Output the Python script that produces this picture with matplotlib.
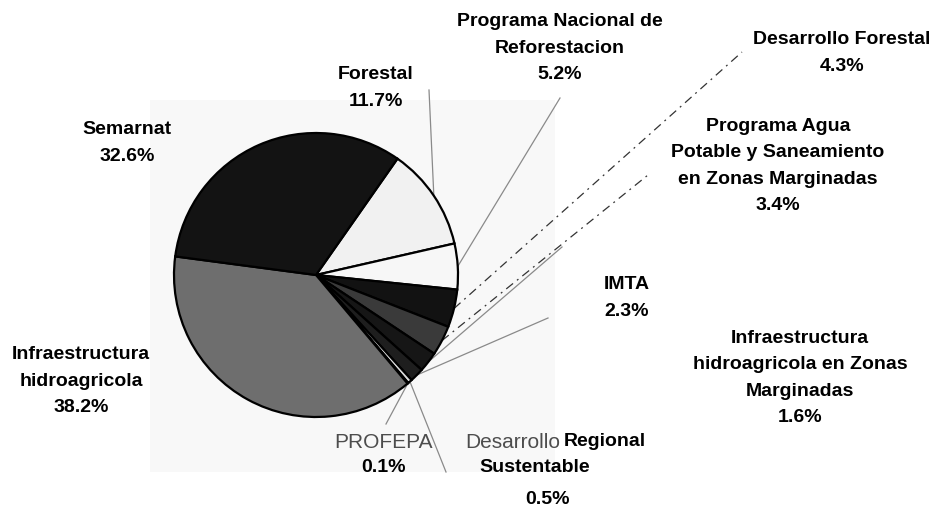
import matplotlib
matplotlib.use("Agg")
import matplotlib.pyplot as plt
import numpy as np
from matplotlib.patches import Rectangle

plt.rcParams.update({
    "font.family": ["Liberation Sans", "DejaVu Sans"],
    "font.size": 14,
})

W, H = 932, 509

# slices, clockwise from the top-right boundary of Semarnat
NAMES = [
    "Forestal",
    "Programa Nacional de\nReforestacion",
    "Desarrollo Forestal",
    "Programa Agua\nPotable y Saneamiento\nen Zonas Marginadas",
    "IMTA",
    "Infraestructura\nhidroagricola en Zonas\nMarginadas",
    "Desarrollo Regional\nSustentable",
    "PROFEPA",
    "Infraestructura\nhidroagricola",
    "Semarnat",
]
SHARES = [11.7, 5.2, 4.3, 3.4, 2.3, 1.6, 0.5, 0.1, 38.2, 32.6]
FILLS = ["#f1f1f1", "#f7f7f7", "#121212", "#3a3a3a", "#161616",
         "#1e1e1e", "#dcdcdc", "#111111", "#6e6e6e", "#131313"]

# label block centres (pixels from top-left) and leader line outer ends
LABEL_POS = [(376, 88), (560, 48), (842, 53), (778, 166), (627, 298),
             (800, 378), (545, 470), (383, 455), (81, 381), (127, 143)]
LEADER_END = [(429, 90), (560, 98), (742, 52), (648, 175), (562, 247),
              (548, 318), (446, 472), (386, 424), None, None]
LEADER_STYLE = ["solid", "solid", "dashdot", "dashdot", "solid",
                "solid", "solid", "solid", None, None]

CENTER = (316, 275)
RADIUS = 142
LSP = 1.72


def py(y):
    return H - y


fig = plt.figure(figsize=(W / 100, H / 100), dpi=100)
ax = fig.add_axes([0, 0, 1, 1])

# faint scanned backdrop behind the pie
ax.add_patch(Rectangle((150, py(472)), 405, 372, facecolor="#f8f8f8",
                       edgecolor="none", zorder=0))

wedges, _ = ax.pie(
    SHARES,
    colors=FILLS,
    startangle=55,
    counterclock=False,
    radius=RADIUS,
    center=(CENTER[0], py(CENTER[1])),
    wedgeprops={"edgecolor": "black", "linewidth": 1.6},
)
for w in wedges:
    w.set_zorder(2)

for w, end, style in zip(wedges, LEADER_END, LEADER_STYLE):
    if end is None:
        continue
    ang = np.deg2rad((w.theta1 + w.theta2) / 2.0)
    sx = CENTER[0] + RADIUS * np.cos(ang)
    sy = py(CENTER[1]) + RADIUS * np.sin(ang)
    if style == "dashdot":
        ax.plot([sx, end[0]], [sy, py(end[1])], color="#333333",
                linewidth=0.9, linestyle=(0, (7, 4, 1.5, 4)), zorder=1)
    else:
        ax.plot([sx, end[0]], [sy, py(end[1])], color="#8a8a8a",
                linewidth=0.9, zorder=1)

for name, share, (lx, ly) in zip(NAMES, SHARES, LABEL_POS):
    if name == "PROFEPA":
        ax.text(lx, py(442), name, ha="center", va="center",
                color="#4d4d4d", fontsize=15)
        ax.text(lx, py(468), f"{share}%", ha="center", va="center",
                fontweight="bold")
        continue
    if name.startswith("Desarrollo Regional"):
        ax.text(560, py(442), "Desarrollo", ha="right", va="center",
                color="#4d4d4d", fontsize=15)
        ax.text(564, py(442), "Regional", ha="left", va="center",
                fontweight="bold")
        ax.text(535, py(468), "Sustentable", ha="center", va="center",
                fontweight="bold")
        ax.text(548, py(500), f"{share}%", ha="center", va="center",
                fontweight="bold")
        continue
    ax.text(lx, py(ly), f"{name}\n{share}%", ha="center", va="center",
            fontweight="bold", linespacing=LSP, color="black")

ax.set_xlim(0, W)
ax.set_ylim(0, H)
ax.set_aspect("equal")
ax.axis("off")

fig.savefig("out.png", dpi=100)
